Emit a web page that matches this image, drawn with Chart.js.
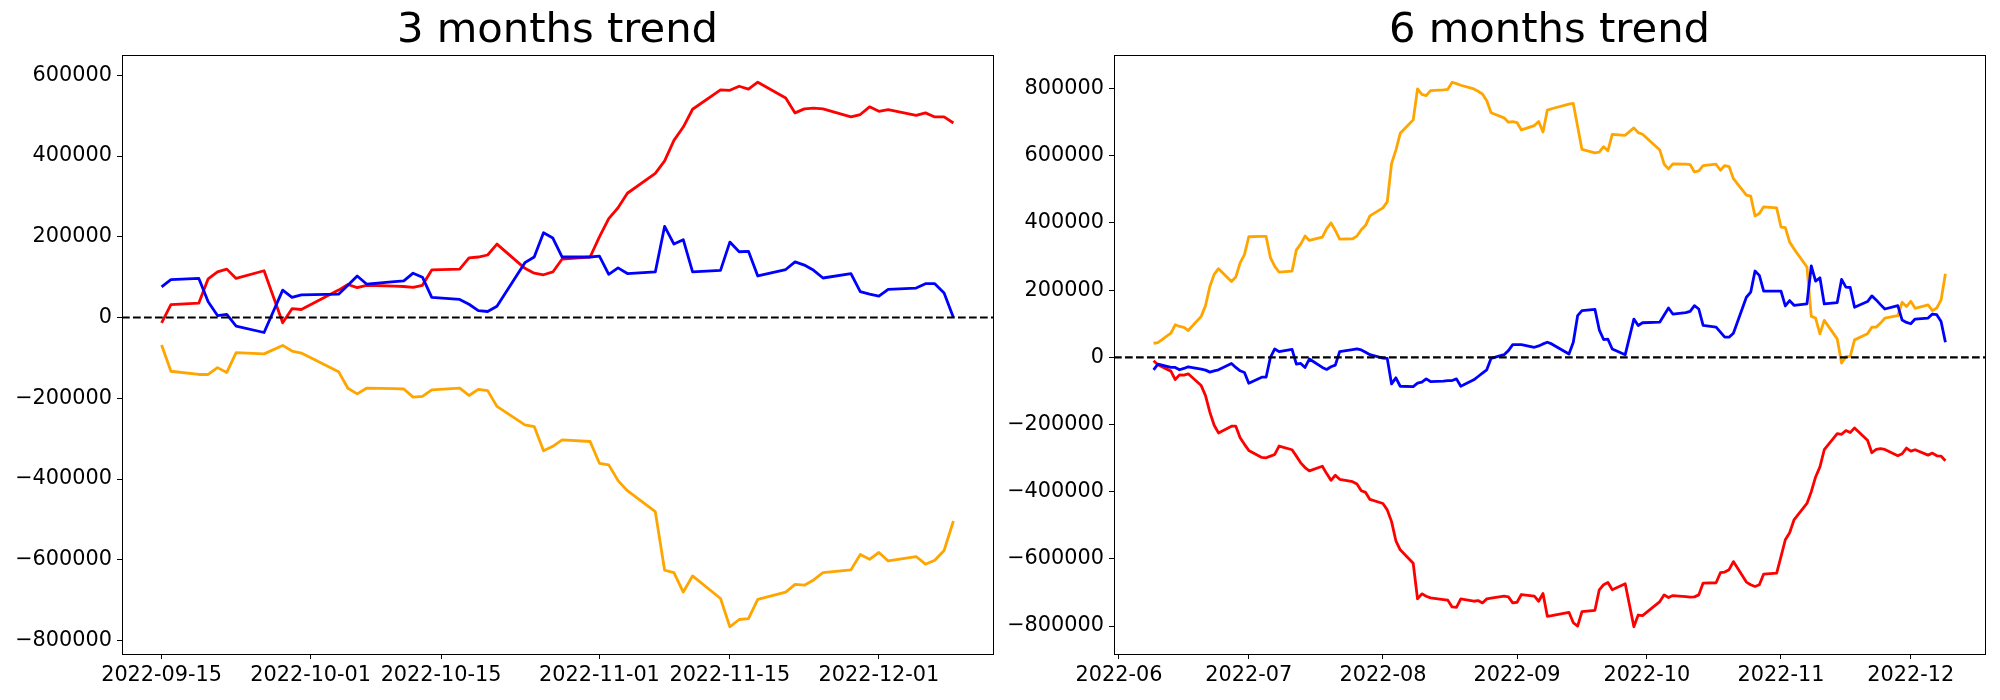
<!DOCTYPE html>
<html>
<head>
<meta charset="utf-8">
<style>
  body { margin: 0; background: #fff; }
  #wrap { position: relative; width: 2000px; height: 700px; }
  canvas { position: absolute; top: 0; }
</style>
</head>
<body>
<div id="wrap">
  <canvas id="chart3m" width="1000" height="700" style="left:0"></canvas>
  <canvas id="chart6m" width="1000" height="700" style="left:1000px"></canvas>
</div>

<script src="https://cdn.jsdelivr.net/npm/chart.js@4.4.0/dist/chart.umd.min.js"></script>

<script>
  // ---- 3 months ----
  const dates3m = [
    '2022-09-15','2022-09-16','2022-09-19','2022-09-20','2022-09-21','2022-09-22','2022-09-23','2022-09-26','2022-09-28','2022-09-29','2022-09-30',
    '2022-10-04','2022-10-05','2022-10-06','2022-10-07','2022-10-10','2022-10-11','2022-10-12','2022-10-13','2022-10-14','2022-10-17',
    '2022-10-18','2022-10-19','2022-10-20','2022-10-21','2022-10-24','2022-10-25','2022-10-26','2022-10-27','2022-10-28','2022-10-31',
    '2022-11-01','2022-11-02','2022-11-03','2022-11-04','2022-11-07','2022-11-08','2022-11-09','2022-11-10','2022-11-11','2022-11-14','2022-11-15',
    '2022-11-16','2022-11-17','2022-11-18','2022-11-21','2022-11-22','2022-11-23','2022-11-24','2022-11-25','2022-11-28','2022-11-29','2022-11-30',
    '2022-12-01','2022-12-02','2022-12-05','2022-12-06','2022-12-07','2022-12-08','2022-12-09'
  ]
  const red3m = [
    -13000, 32000, 36000, 96000, 113000, 120000, 97000, 116000, -13000, 22000, 20000,
    68000, 82000, 74000, 80000, 78000, 77000, 75000, 80000, 118000, 120000,
    148000, 150000, 155000, 182000, 122000, 110000, 106000, 113000, 145000, 150000,
    200000, 245000, 272000, 308000, 357000, 388000, 439000, 472000, 516000, 564000, 563000,
    573000, 566000, 583000, 544000, 507000, 517000, 519000, 517000, 497000, 503000, 522000,
    511000, 515000, 501000, 507000, 497000, 497000, 482000
  ]
  const blue3m = [
    76000, 94000, 97000, 39000, 5000, 8000, -21000, -37000, 68000, 50000, 56000,
    58000, 80000, 103000, 83000, 89000, 91000, 110000, 100000, 50000, 45000,
    33000, 17000, 15000, 28000, 136000, 150000, 210000, 197000, 150000, 150000,
    152000, 107000, 123000, 109000, 113000, 226000, 182000, 193000, 113000, 117000, 187000,
    163000, 164000, 103000, 119000, 138000, 130000, 117000, 98000, 109000, 64000, 58000,
    53000, 70000, 73000, 84000, 84000, 61000, 0
  ]
  const orange3m = [
    -68000, -133000, -141000, -141000, -124000, -136000, -87000, -90000, -69000, -83000, -88000,
    -134000, -175000, -189000, -175000, -176000, -177000, -197000, -195000, -179000, -175000,
    -193000, -178000, -181000, -220000, -266000, -270000, -330000, -319000, -303000, -307000,
    -361000, -365000, -404000, -429000, -481000, -626000, -632000, -680000, -640000, -696000, -766000,
    -748000, -746000, -698000, -680000, -661000, -663000, -650000, -632000, -625000, -587000, -599000,
    -582000, -603000, -592000, -611000, -601000, -577000, -504000
  ]
  const xTicks3m = ['2022-09-15', '2022-10-01', '2022-10-15', '2022-11-01', '2022-11-15', '2022-12-01']
  const yTicks3m = [-800000, -600000, -400000, -200000, 0, 200000, 400000, 600000]

  // ---- 6 months ----
  const dates6m = [
    '2022-06-09','2022-06-10','2022-06-13','2022-06-14','2022-06-15','2022-06-16','2022-06-17','2022-06-20',
    '2022-06-21','2022-06-22','2022-06-23','2022-06-24','2022-06-27','2022-06-28','2022-06-29','2022-06-30',
    '2022-07-01','2022-07-04','2022-07-05','2022-07-06','2022-07-07','2022-07-08','2022-07-11','2022-07-12','2022-07-13','2022-07-14','2022-07-15',
    '2022-07-18','2022-07-19','2022-07-20','2022-07-21','2022-07-22','2022-07-25','2022-07-26','2022-07-27','2022-07-28','2022-07-29',
    '2022-08-01','2022-08-02','2022-08-03','2022-08-04','2022-08-05','2022-08-08','2022-08-09','2022-08-10','2022-08-11','2022-08-12','2022-08-15','2022-08-16',
    '2022-08-17','2022-08-18','2022-08-19','2022-08-22','2022-08-23','2022-08-24','2022-08-25','2022-08-26','2022-08-29','2022-08-30','2022-08-31',
    '2022-09-01','2022-09-02','2022-09-05','2022-09-06','2022-09-07','2022-09-08','2022-09-09','2022-09-13','2022-09-14','2022-09-15',
    '2022-09-16','2022-09-19','2022-09-20','2022-09-21','2022-09-22','2022-09-23','2022-09-26','2022-09-28','2022-09-29','2022-09-30',
    '2022-10-04','2022-10-05','2022-10-06','2022-10-07','2022-10-10','2022-10-11','2022-10-12','2022-10-13','2022-10-14','2022-10-17',
    '2022-10-18','2022-10-19','2022-10-20','2022-10-21','2022-10-24','2022-10-25','2022-10-26','2022-10-27','2022-10-28','2022-10-31',
    '2022-11-01','2022-11-02','2022-11-03','2022-11-04','2022-11-07','2022-11-08','2022-11-09','2022-11-10','2022-11-11','2022-11-14','2022-11-15',
    '2022-11-16','2022-11-17','2022-11-18','2022-11-21','2022-11-22','2022-11-23','2022-11-24','2022-11-25','2022-11-28','2022-11-29','2022-11-30',
    '2022-12-01','2022-12-02','2022-12-05','2022-12-06','2022-12-07','2022-12-08','2022-12-09'
  ]
  const orange6m = [
    42000, 44000, 72000, 97000, 92000, 89000, 80000, 122000, 154000, 211000, 247000, 264000, 226000, 239000, 281000, 306000,
    359000, 360000, 360000, 297000, 271000, 254000, 257000, 320000, 337000, 361000, 348000,
    358000, 383000, 400000, 378000, 352000, 353000, 361000, 380000, 393000, 421000,
    445000, 463000, 577000, 617000, 667000, 707000, 799000, 783000, 779000, 794000, 796000, 798000,
    819000, 815000, 810000, 799000, 792000, 784000, 764000, 728000, 713000, 700000, 702000,
    699000, 677000, 690000, 702000, 671000, 736000, 740000, 754000, 756000, null,
    619000, 609000, 611000, 627000, 615000, 664000, 661000, 683000, 669000, 664000,
    617000, 575000, 561000, 576000, 575000, 574000, 552000, 555000, 571000, 575000,
    557000, 571000, 568000, 532000, 483000, 480000, 421000, 428000, 448000, 445000,
    388000, 386000, 343000, 323000, 269000, 122000, 117000, 70000, 110000, 55000, -17000,
    2000, 3000, 52000, 70000, 90000, 90000, 102000, 117000, 124000, 164000, 151000,
    167000, 146000, 156000, 139000, 147000, 171000, 249000
  ]
  const blue6m = [
    -37000, -20000, -30000, -30000, -37000, -33000, -28000, -35000, -38000, -44000, -40000, -37000, -18000, -30000, -40000, -45000,
    -77000, -59000, -59000, 0, 25000, 17000, 24000, -20000, -18000, -30000, -5000,
    -30000, -36000, -28000, -23000, 17000, 23000, 25000, 22000, 15000, 8000,
    -2000, -3000, -79000, -61000, -86000, -87000, -77000, -74000, -64000, -72000, -71000, -69000,
    -69000, -64000, -86000, -67000, -57000, -47000, -37000, -3000, 8000, 20000, 38000,
    38000, 38000, 30000, 34000, 40000, 45000, 40000, 10000, 45000, 124000,
    139000, 143000, 82000, 53000, 54000, 25000, 8000, 114000, 95000, 103000,
    105000, 126000, 147000, 129000, 133000, 137000, 154000, 144000, 95000, 90000,
    75000, 60000, 60000, 72000, 179000, 194000, 257000, 244000, 197000, 197000,
    197000, 153000, 169000, 155000, 159000, 272000, 227000, 237000, 159000, 163000, 232000,
    209000, 208000, 149000, 166000, 183000, 171000, 157000, 144000, 154000, 111000, 104000,
    100000, 114000, 117000, 129000, 127000, 107000, 45000
  ]
  const red6m = [
    -10000, -22000, -41000, -66000, -52000, -53000, -49000, -84000, -114000, -163000, -202000, -225000, -205000, -205000, -239000, -259000,
    -277000, -298000, -299000, -294000, -289000, -264000, -275000, -294000, -314000, -328000, -338000,
    -324000, -346000, -366000, -351000, -363000, -370000, -377000, -397000, -402000, -423000,
    -435000, -454000, -489000, -546000, -573000, -613000, -719000, -704000, -711000, -716000, -721000, -723000,
    -743000, -744000, -719000, -726000, -724000, -731000, -719000, -717000, -711000, -713000, -731000,
    -729000, -706000, -711000, -726000, -703000, -771000, -769000, -759000, -790000, -800000,
    -757000, -753000, -692000, -677000, -670000, -692000, -674000, -802000, -767000, -769000,
    -727000, -707000, -715000, -709000, -712000, -714000, -713000, -707000, -672000, -671000,
    -641000, -639000, -632000, -608000, -669000, -677000, -682000, -677000, -645000, -642000,
    -593000, -543000, -522000, -484000, -435000, -400000, -356000, -326000, -275000, -227000, -229000,
    -218000, -224000, -210000, -247000, -284000, -274000, -272000, -274000, -293000, -287000, -270000,
    -279000, -275000, -291000, -285000, -293000, -294000, -308000
  ]
  const xTicks6m = ['2022-06', '2022-07', '2022-08', '2022-09', '2022-10', '2022-11', '2022-12']
  const yTicks6m = [-800000, -600000, -400000, -200000, 0, 200000, 400000, 600000, 800000]

  const DAY = 86400000
  const toDay = s => {
    const p = s.split('-').map(Number)
    return Date.UTC(p[0], p[1] - 1, p[2] || 1) / DAY
  }
  const minus = v => v < 0 ? '\u2212' + Math.abs(v) : String(v)

  const boxPlugin = {
    id: 'box',
    afterDraw(chart) {
      const { ctx, chartArea: a } = chart
      ctx.save()
      ctx.strokeStyle = '#000'
      ctx.lineWidth = 1
      ctx.strokeRect(a.left + 0.5, a.top + 0.5, a.right - a.left, a.bottom - a.top)
      ctx.restore()
    }
  }

  const tickFont = { family: 'DejaVu Sans', size: 20.8 }

  const makeChart = (id, title, dates, series, xTicks, yTicks, leftWidth, rightPad) => {
    const xs = dates.map(toDay)
    const all = series.flatMap(s => s.values).filter(v => v !== null)
    const yLo = Math.min(...all)
    const yHi = Math.max(...all)
    const yPad = (yHi - yLo) * 0.05
    const xPad = (xs[xs.length - 1] - xs[0]) * 0.05
    const xMin = xs[0] - xPad
    const xMax = xs[xs.length - 1] + xPad
    const xTickVals = xTicks.map(toDay)

    const datasets = series.map(s => ({
      label: s.name,
      data: xs.map((x, j) => ({ x, y: s.values[j] })),
      borderColor: s.color,
      borderWidth: 2.8,
      borderJoinStyle: 'round',
      pointRadius: 0,
      spanGaps: true,
      tension: 0,
      order: s.order
    }))
    datasets.push({
      label: 'zero',
      data: [{ x: xMin, y: 0 }, { x: xMax, y: 0 }],
      borderColor: '#000',
      borderWidth: 2.1,
      borderDash: [7.7, 3.3],
      pointRadius: 0,
      order: 0
    })

    new Chart(document.getElementById(id), {
      type: 'line',
      data: { datasets },
      options: {
        responsive: false,
        animation: false,
        events: [],
        layout: { padding: { left: 0, right: rightPad, top: 0, bottom: 0 } },
        plugins: {
          legend: { display: false },
          tooltip: { enabled: false },
          title: {
            display: true,
            text: title,
            fullSize: false,
            color: '#000',
            font: { family: 'DejaVu Sans', size: 41.7, weight: 'normal', lineHeight: 1 },
            padding: { top: 10, bottom: 3.3 }
          }
        },
        scales: {
          x: {
            type: 'linear',
            min: xMin,
            max: xMax,
            afterBuildTicks: s => { s.ticks = xTickVals.map(v => ({ value: v })) },
            afterFit: s => { s.height = 46 },
            ticks: {
              autoSkip: false,
              maxRotation: 0,
              padding: 4,
              color: '#000',
              font: tickFont,
              callback: (v, i) => xTicks[i]
            },
            grid: { drawOnChartArea: false, tickLength: 5, color: '#000', lineWidth: 1 },
            border: { color: '#000', width: 1 }
          },
          y: {
            type: 'linear',
            min: yLo - yPad,
            max: yHi + yPad,
            afterBuildTicks: s => { s.ticks = yTicks.map(v => ({ value: v })) },
            afterFit: s => { s.width = leftWidth },
            ticks: {
              padding: 5,
              color: '#000',
              font: tickFont,
              callback: v => minus(v)
            },
            grid: { drawOnChartArea: false, tickLength: 5, color: '#000', lineWidth: 1 },
            border: { color: '#000', width: 1 }
          }
        }
      },
      plugins: [boxPlugin]
    })
  }

  makeChart('chart3m', '3 months trend', dates3m, [
    { name: 'red', values: red3m, color: '#ff0000', order: 2 },
    { name: 'blue', values: blue3m, color: '#0000ff', order: 1 },
    { name: 'orange', values: orange3m, color: '#ffa500', order: 3 }
  ], xTicks3m, yTicks3m, 122, 7)

  makeChart('chart6m', '6 months trend', dates6m, [
    { name: 'red', values: red6m, color: '#ff0000', order: 2 },
    { name: 'blue', values: blue6m, color: '#0000ff', order: 1 },
    { name: 'orange', values: orange6m, color: '#ffa500', order: 3 }
  ], xTicks6m, yTicks6m, 114, 15)
</script>
</body>
</html>
